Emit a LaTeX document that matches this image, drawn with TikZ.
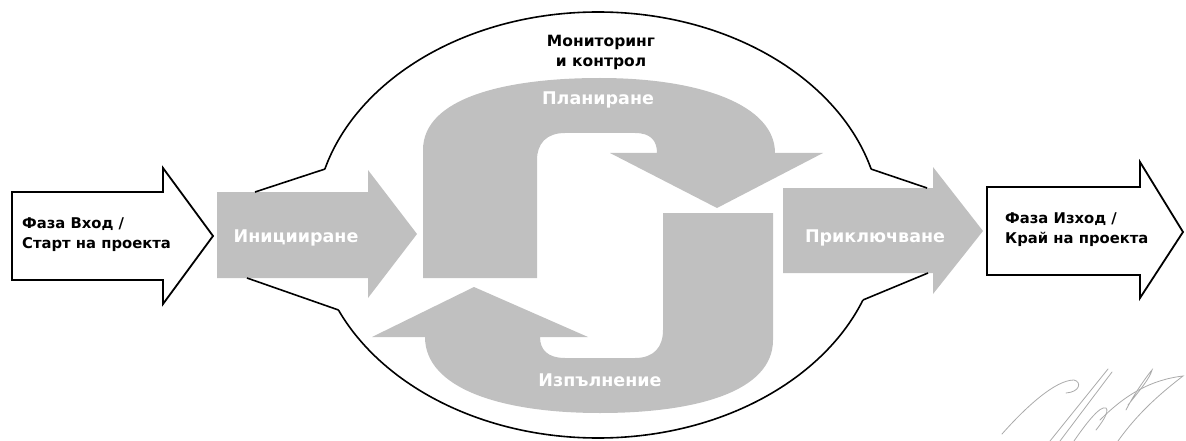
\documentclass[tikz,border=0pt]{standalone}
\usepackage{fontspec}
\setmainfont{DejaVu Sans}
\definecolor{arrowgray}{RGB}{192,192,192}
\definecolor{siggray}{RGB}{170,170,170}
\begin{document}
\begin{tikzpicture}[x=1pt,y=-1pt,
  grayshape/.style={fill=arrowgray,draw=none},
  whiteshape/.style={draw=black,line width=1.8pt,fill=white,line join=miter},
  ring/.style={draw=black,line width=1.6pt},
  lbl/.style={font=\bfseries\fontsize{14.8}{20}\selectfont,align=left,anchor=west,inner sep=0pt},
  toplbl/.style={font=\bfseries\fontsize{15.5}{20}\selectfont,align=center,inner sep=0pt},
  wlbl/.style={font=\bfseries\fontsize{17.5}{20}\selectfont,text=white,inner sep=0pt},
  sig/.style={draw=siggray,line width=0.8pt,line cap=round}]
\useasboundingbox (0,0) rectangle (1186,441);

% ---- outer monitoring ring (ellipse, cut where the side arrows enter) ----
\coordinate (c) at (598,225);
\coordinate (kTL) at (325.1,169);
\coordinate (kTR) at (870.9,169);
\coordinate (kBL) at (338.5,310);
\coordinate (kBR) at (862.9,300);
\begin{scope}
  \clip (0,0) -- (1186,0) -- (1186,169) -- (kTR) -- (kTL) -- (0,169) -- cycle;
  \draw[ring] (c) ellipse [x radius=283pt, y radius=213pt];
\end{scope}
\begin{scope}
  \clip (0,441) -- (0,310) -- (kBL) -- (kBR) -- (1186,300) -- (1186,441) -- cycle;
  \draw[ring] (c) ellipse [x radius=283pt, y radius=213pt];
\end{scope}

% ---- side gray arrows ----
\path[grayshape] (217,192) coordinate (iniTL) -- (368,192) -- (368,170) -- (417,234) coordinate (iniTip)
  -- (368,298) -- (368,278) -- (217,278) coordinate (iniBL) -- cycle;
\path[grayshape] (783,188) coordinate (clsTL) -- (933,188) -- (933,167) -- (983,231) coordinate (clsTip)
  -- (933,294) -- (933,273) -- (783,273) coordinate (clsBL) -- cycle;

\coordinate (iniTopJ) at (255,192);
\coordinate (iniBotJ) at (247,278);
\coordinate (clsTopJ) at (927,188);
\coordinate (clsBotJ) at (928,273);
\draw[ring] (kTL) -- (iniTopJ);
\draw[ring] (kBL) -- (iniBotJ);
\draw[ring] (kTR) -- (clsTopJ);
\draw[ring] (kBR) -- (clsBotJ);

% ---- planning arrow (top, turning down) ----
\path[grayshape] (423,278) -- (423,150)
  .. controls (423,98) and (505,78) .. (600,78)
  .. controls (700,78) and (775,105) .. (775,153)
  -- (823,153) -- (717,208) -- (610,153) -- (657,153)
  .. controls (657,140) and (650,133) .. (635,133)
  -- (565,133) .. controls (546,133) and (537,144) .. (537,160)
  -- (537,278) -- cycle;

% ---- execution arrow (bottom, turning up) ----
\path[grayshape] (773,213) -- (773,340)
  .. controls (773,392) and (695,413) .. (600,413)
  .. controls (500,413) and (425,388) .. (425,337)
  -- (372,337) -- (474,287) -- (588,337) -- (540,337)
  .. controls (540,350) and (548,358) .. (565,358)
  -- (635,358) .. controls (654,358) and (663,347) .. (663,330)
  -- (663,213) -- cycle;

% ---- white input / output arrows ----
\path[whiteshape] (12,192) -- (163,192) -- (163,168) -- (213,236) -- (163,304) -- (163,280) -- (12,280) -- cycle;
\path[whiteshape] (987,187) -- (1140,187) -- (1140,162) -- (1183,232) -- (1140,298) -- (1140,275) -- (987,275) -- cycle;

% ---- labels ----
\node[lbl] (in) at (22,235) {Фаза Вход /\\Старт на проекта};
\node[lbl] (out) at (1005,230) {Фаза Изход /\\Край на проекта};
\node[toplbl] (mon) at (601,52) {Мониторинг\\и контрол};
\node[wlbl] (ini) at (296,238) {Иницииране};
\node[wlbl] (pla) at (598,100) {Планиране};
\node[wlbl] (exe) at (600,380) {Изпълнение};
\node[wlbl] (cls) at (875,238) {Приключване};

% ---- signature ----
\draw[sig] (1002,434) .. controls (1025,408) and (1055,380) .. (1074,380)
  .. controls (1082,382) and (1080,392) .. (1066,393);
\draw[sig] (1050,441) -- (1108,369);
\draw[sig] (1060,441) -- (1112,372);
\draw[sig] (1074,441) .. controls (1085,425) and (1100,405) .. (1106,408)
  .. controls (1110,412) and (1100,425) .. (1096,430);
\draw[sig] (1100,420) .. controls (1125,395) and (1150,380) .. (1183,376)
  .. controls (1165,390) and (1140,410) .. (1118,441);
\draw[sig] (1128,405) .. controls (1140,390) and (1150,378) .. (1152,370)
  .. controls (1150,372) and (1135,392) .. (1126,410);
\end{tikzpicture}
\end{document}
